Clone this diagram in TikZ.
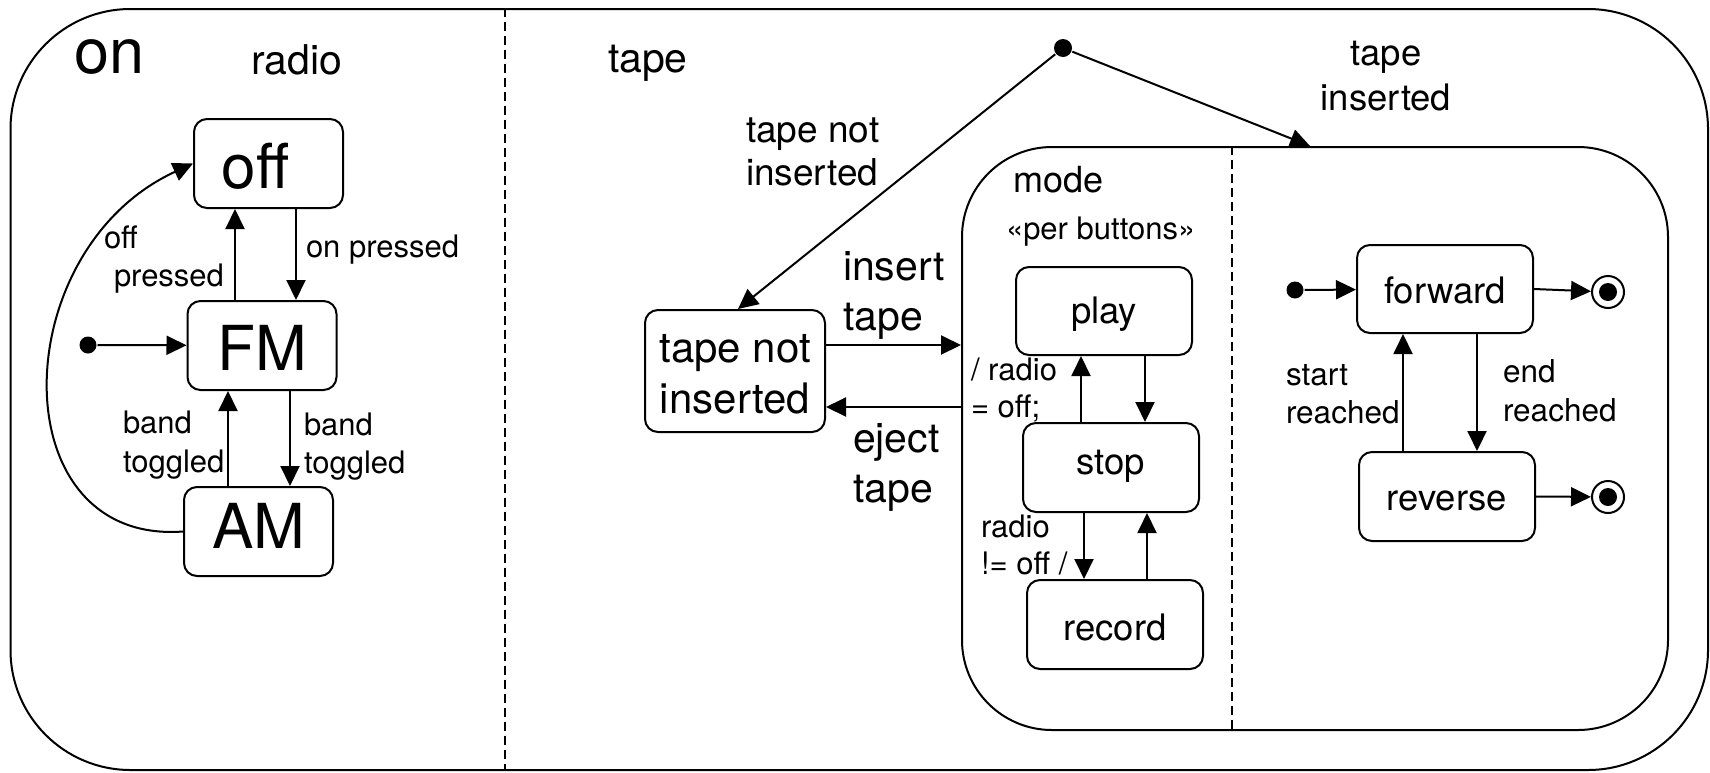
\documentclass[tikz,border=0pt]{standalone}
\usepackage{fontspec}
\setmainfont{TeX Gyre Heros}
\usetikzlibrary{arrows.meta}
\newcommand\myfs[2]{\fontsize{#1pt}{#2pt}\selectfont}
\newcommand\vl[1]{\vtop{\halign{##\hfil\cr#1\crcr}}}
\newcommand\vc[1]{\vtop{\halign{\hfil##\hfil\cr#1\crcr}}}
\begin{document}
\begin{tikzpicture}[x=1pt,y=-1pt,
  line width=2pt,
  arr/.style={-{Triangle[length=20pt,width=19pt]}, line width=2pt},
  st/.style={draw, line width=2pt, rounded corners=13pt, inner sep=0pt},
  big/.style={st, font=\myfs{62}{74}, text height=49pt, text depth=0pt, minimum width=149pt, minimum height=89pt},
  mid/.style={st, font=\myfs{36.5}{44}, text height=26pt, text depth=0pt, minimum width=176pt, minimum height=89pt},
  lbl/.style={anchor=base west, inner sep=0pt},
  dot/.style={circle, fill, inner sep=0pt, minimum size=17pt},
  fin/.style={circle, draw, line width=2pt, inner sep=0pt, minimum size=32pt},
  dsh/.style={dash pattern=on 9pt off 5pt, line width=2pt}
]
\useasboundingbox (0,0) rectangle (1710,772);

% containers
\node[draw, line width=2pt, rounded corners=120pt, minimum width=1697.5pt, minimum height=761pt, inner sep=0pt] (outer) at (859.25,389.5) {};
\node[draw, line width=2pt, rounded corners=90pt, minimum width=706pt, minimum height=583pt, inner sep=0pt] (mode) at (1315,438.5) {};
\draw[dsh] (outer.north -| 505,0) -- (outer.south -| 505,0);
\draw[dsh] (mode.north -| 1232,0) -- (mode.south -| 1232,0);

% region labels
\node[lbl, font=\myfs{63}{75}] (lon) at (73,73) {on};
\node[lbl, font=\myfs{41}{49}] (lradio) at (250,74) {radio};
\node[lbl, font=\myfs{41}{49}] (ltape) at (607,72) {tape};
\node[lbl, font=\myfs{36}{43}] (lmode) at (1012,192) {mode};
\node[lbl, font=\myfs{31}{37}] (lper) at (1005,239) {«per buttons»};

% radio states
\node[big] (off) at (268.5,163.5) {off\kern26pt};
\node[big] (fm) at (262,345.5) {FM};
\node[big, text height=33pt] (am) at (258.5,531.5) {AM};
\node[dot] (d1) at (88,345) {};

\draw[arr] (d1) -- (fm);
\draw[arr] (off.south -| 296,0) -- (fm.north -| 296,0);
\draw[arr] (fm.north -| 235,0) -- (off.south -| 235,0);
\draw[arr] (fm.south -| 290,0) -- (am.north -| 290,0);
\draw[arr] (am.north -| 228,0) -- (fm.south -| 228,0);
\draw[arr] (am.west) .. controls (0,545) and (5,250) .. (off.west);

\node[lbl, font=\myfs{31}{38}] (lon1) at (305,257) {on pressed};
\node[lbl, font=\myfs{31}{38}] (loff1) at (103,248) {\vl{off\cr\kern10pt pressed}};
\node[lbl, font=\myfs{31}{39}] (lb1) at (122,433) {\vl{band\cr toggled}};
\node[lbl, font=\myfs{31}{38}] (lb2) at (303,435) {\vl{band\cr toggled}};

% tape
\node[dot, minimum size=18pt] (d2) at (1063,48) {};
\node[st, font=\myfs{42}{51}, text height=0pt, text depth=18pt, minimum width=180pt, minimum height=122pt] (tni) at (735,371) {\vc{tape not\cr inserted}};
\draw[arr] (d2) -- (tni.north -| 738,0);
\draw[arr] (d2) -- (mode.north -| 1310,0);
\draw[arr] (tni.east |- 0,345) -- (mode.west |- 0,345);
\draw[arr] (mode.west |- 0,407) -- (tni.east |- 0,407);

\node[lbl, font=\myfs{37}{43}] (ltni) at (745,142) {\vl{tape not\cr inserted}};
\node[lbl, font=\myfs{41}{50}] (lins) at (842,280) {\vl{insert\cr tape}};
\node[lbl, font=\myfs{41}{50}] (lej) at (852,452) {\vl{eject\cr tape}};
\node[anchor=base, inner sep=0pt, font=\myfs{36.5}{45}] (lti) at (1386,65) {\vc{tape\cr inserted}};

% mode left region
\node[mid, minimum height=88pt, text height=24pt] (play) at (1104,311) {play};
\node[mid, text height=14pt] (stop) at (1111,467.5) {stop};
\node[mid, text height=31pt] (record) at (1115,624.5) {record};
\draw[arr] (stop.north -| 1081,0) -- (play.south -| 1081,0);
\draw[arr] (play.south -| 1145,0) -- (stop.north -| 1145,0);
\draw[arr] (stop.south -| 1084,0) -- (record.north -| 1084,0);
\draw[arr] (record.north -| 1147,0) -- (stop.south -| 1147,0);
\node[lbl, font=\myfs{31}{37}] (lr1) at (970,380) {\vl{/ radio\cr = off;}};
\node[lbl, font=\myfs{31}{37}] (lr2) at (980,537) {\vl{radio\cr != off /}};

% mode right region
\node[dot] (d3) at (1295,290) {};
\node[mid, minimum height=88pt, text height=28pt] (fwd) at (1445,289) {forward};
\node[mid, text height=27pt] (rev) at (1447,496.5) {reverse};
\node[fin] (fin1) at (1608,292) {};
\node[fin] (fin2) at (1608,497) {};
\fill (fin1) circle[radius=9pt];
\fill (fin2) circle[radius=9pt];
\draw[arr] (d3) -- (fwd);
\draw[arr] (fwd.east) -- (fin1);
\draw[arr] (rev.east) -- (fin2);
\draw[arr] (fwd.south -| 1477,0) -- (rev.north -| 1477,0);
\draw[arr] (rev.north -| 1403,0) -- (fwd.south -| 1403,0);
\node[lbl, font=\myfs{31.5}{38}] (lsr) at (1285,385) {\vl{start\cr reached}};
\node[lbl, font=\myfs{31.5}{39}] (ler) at (1502,382) {\vl{end\cr reached}};
\end{tikzpicture}
\end{document}
